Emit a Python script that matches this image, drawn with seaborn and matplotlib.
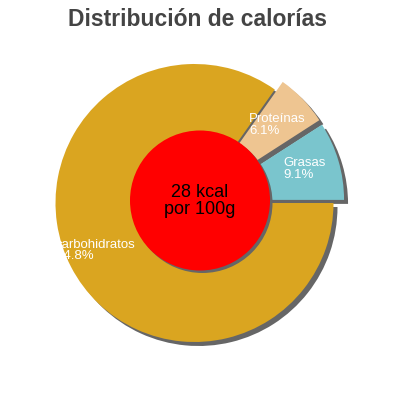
import matplotlib
matplotlib.use("Agg")
import matplotlib.pyplot as plt
import seaborn as sns
from matplotlib.patches import Circle

# ---- data ----
categories = ["Grasas", "Proteínas", "carbohidratos"]
percentages = [9.1, 6.1, 84.8]
pct_labels = ["9.1%", "6.1%", "84.8%"]
colors = ["#7AC5CD", "#EEC591", "#DAA520"]
title = "Distribución de calorías"
center_text = ["28 kcal", "por 100g"]

sns.set_theme(style="white")
plt.rcParams['font.family'] = ['Liberation Sans', 'DejaVu Sans']

fig = plt.figure(figsize=(4, 4), dpi=100)
ax = fig.add_axes([0, 0, 1, 1])

def py(y):  # pixel-from-top to data y
    return 400 - y

cx, cy, r = 194.5, py(203), 139
explode = [11, 11, 0]  # offsets in pixels (data units)
shadow = "#666666"

# shadow pie
ax.pie(percentages, explode=explode, colors=[shadow] * 3, startangle=0,
       counterclock=True, center=(cx + 4, cy - 4), radius=r,
       wedgeprops=dict(linewidth=0), frame=True)
# main pie
ax.pie(percentages, explode=explode, colors=colors, startangle=0,
       counterclock=True, center=(cx, cy), radius=r,
       wedgeprops=dict(linewidth=0), frame=True)
ax.set_xlim(0, 400)
ax.set_ylim(0, 400)
ax.set_aspect('equal')
ax.axis('off')

# center circle with shadow
ax.add_patch(Circle((200 + 2.5, py(200.5) - 2.5), 70, color=shadow, lw=0, zorder=3))
ax.add_patch(Circle((200, py(200.5)), 70, color="#FF0000", lw=0, zorder=4))
ax.text(200, py(196.7), center_text[0], ha='center', va='baseline',
        fontsize=13, color='black', zorder=5)
ax.text(200, py(214), center_text[1], ha='center', va='baseline',
        fontsize=13, color='black', zorder=5)

# slice labels (left x, first baseline, second baseline)
label_pos = [(283.5, 165.5, 178.0), (249, 122.0, 134.0), (56, 248.3, 259.3)]
for cat, pl, (lx, b1, b2) in zip(categories, pct_labels, label_pos):
    ax.text(lx, py(b1), cat, ha='left', va='baseline', fontsize=9.5,
            color='white', zorder=6)
    ax.text(lx, py(b2), pl, ha='left', va='baseline', fontsize=9.5,
            color='white', zorder=6)

ax.text(198, py(25.7), title, ha='center', va='baseline', fontsize=16.5,
        fontweight='bold', color='#444444')

fig.savefig("out.png", dpi=100)
